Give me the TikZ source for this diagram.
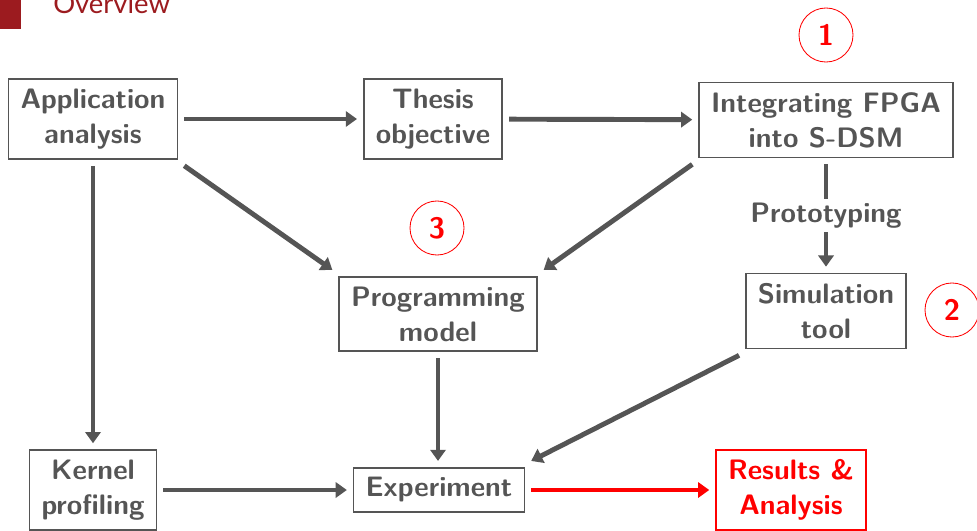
\documentclass[tikz,border=0pt]{standalone}
\usepackage{fontspec}
\newfontfamily\titlefont{Lato}
\usetikzlibrary{arrows.meta}

\definecolor{boxgray}{HTML}{555555}
\definecolor{titlered}{HTML}{9C1B1F}

\begin{document}
\begin{tikzpicture}[x=0.025cm, y=-0.025cm,
  box/.style   ={draw=boxgray, line width=1.2pt, text=boxgray, align=center,
                 font=\sffamily\bfseries\fontsize{20}{24.9}\selectfont,
                 inner xsep=0.3cm, inner ysep=0.245cm, outer sep=0.17cm},
  resbox/.style={box, draw=red, text=red},
  num/.style   ={draw=red, circle, line width=0.6pt, text=red, minimum size=1.35cm,
                 inner sep=0pt, font=\sffamily\bfseries\fontsize{21}{24}\selectfont},
  lab/.style   ={fill=white, text=boxgray, inner sep=3pt,
                 font=\sffamily\bfseries\fontsize{20}{24.9}\selectfont},
  flow/.style  ={-{Triangle[length=0.28cm, width=0.38cm]}, boxgray, line width=3.5pt},
  rflow/.style ={flow, red},
]
\useasboundingbox (0,0) rectangle (977,531);

% ============================ frame title (cut by the page) =================
\node[fill=titlered, minimum width=0.525cm, minimum height=0.725cm, inner sep=0pt,
      anchor=north west] (mark) at (0,0) {};
\node[anchor=base west, text=titlered, inner sep=0pt,
      font=\titlefont\fontsize{19.5}{22}\selectfont] (title) at (53,14) {Overview};

% ============================ boxes =========================================
\node[box] (app)    at (93,119)  {Application\\analysis};
\node[box] (thesis) at (433,119) {Thesis\\objective};
\node[box] (fpga)   at (826,120) {Integrating FPGA\\into S-DSM};
\node[box] (prog)   at (438,314) {Programming\\model};
\node[box] (sim)    at (826,311) {Simulation\\tool};
\node[box] (kernel) at (93,490)  {Kernel\\profiling};
\node[box] (exp)    at (439,490) {Experiment};
\node[resbox] (res) at (791,490) {Results \&\\Analysis};

% ============================ step numbers ==================================
\node[num] (n1) at (826,35)  {1};
\node[num] (n2) at (952,310) {2};
\node[num] (n3) at (437,228) {3};

% ============================ flows =========================================
\draw[flow] (app) -- (thesis);
\draw[flow] (thesis) -- (fpga);
\draw[flow] (app) -- (kernel);
\draw[flow] (app.south east) -- (prog.north west);
\draw[flow] (fpga.south west) -- (prog.north east);
\draw[flow] (fpga) -- node[lab] (proto) {Prototyping} (sim);
\draw[flow] (prog) -- (prog |- exp.north);
\draw[flow] (sim.south west) -- (exp.north east);
\draw[flow] (kernel) -- (exp);
\draw[rflow] (exp) -- (res);

\end{tikzpicture}
\end{document}
